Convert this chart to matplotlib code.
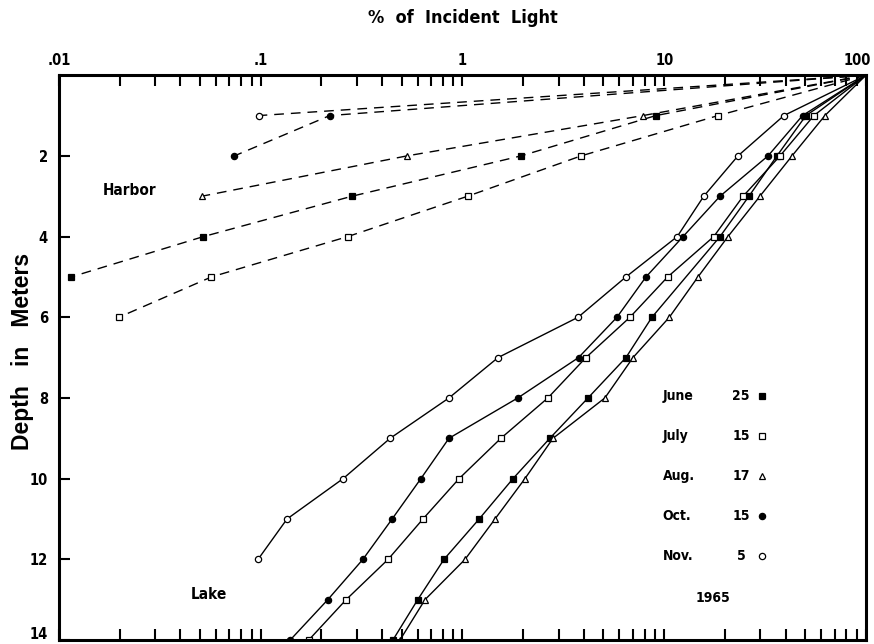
import numpy as np
import matplotlib
matplotlib.use("Agg")
import matplotlib.pyplot as plt
import matplotlib.transforms as mtransforms

# Harbor stations (dashed lines), % of incident light vs depth (m)
harbor_june_depth = [0, 1, 2, 3, 4, 5]
harbor_june_light = [100, 9.1, 1.95, 0.283, 0.052, 0.0115]
harbor_july_depth = [0, 1, 2, 3, 4, 5, 6]
harbor_july_light = [100, 18.5, 3.87, 1.06, 0.27, 0.057, 0.0198]
harbor_aug_depth = [0, 1, 2, 3]
harbor_aug_light = [100, 7.85, 0.53, 0.051]
harbor_oct_depth = [0, 1, 2]
harbor_oct_light = [100, 0.22, 0.074]
harbor_nov_depth = [0, 1]
harbor_nov_light = [100, 0.098]

# Lake stations (solid lines)
lake_june_depth = [0, 1, 2, 3, 4, 6, 7, 8, 9, 10, 11, 12, 13, 14]
lake_june_light = [100, 50.4, 36.2, 26.3, 18.9, 8.69, 6.46, 4.19, 2.71, 1.78, 1.21, 0.81, 0.60, 0.452]
lake_july_depth = [0, 1, 2, 3, 4, 5, 6, 7, 8, 9, 10, 11, 12, 13, 14]
lake_july_light = [100, 55.2, 37.5, 24.6, 17.6, 10.4, 6.76, 4.09, 2.65, 1.55, 0.962, 0.637, 0.428, 0.265, 0.173]
lake_aug_depth = [0, 1, 2, 3, 4, 5, 6, 7, 8, 9, 10, 11, 12, 13, 14]
lake_aug_light = [100, 62.6, 43.0, 29.8, 20.7, 14.7, 10.6, 7.0, 5.08, 2.81, 2.04, 1.45, 1.03, 0.652, 0.49]
lake_oct_depth = [0, 1, 2, 3, 4, 5, 6, 7, 8, 9, 10, 11, 12, 13, 14]
lake_oct_light = [100, 48.5, 32.7, 18.9, 12.4, 8.12, 5.83, 3.76, 1.88, 0.857, 0.622, 0.448, 0.321, 0.215, 0.140]
lake_nov_depth = [0, 1, 2, 3, 4, 5, 6, 7, 8, 9, 10, 11, 12]
lake_nov_light = [100, 39.2, 23.2, 15.7, 11.6, 6.46, 3.74, 1.50, 0.857, 0.438, 0.256, 0.135, 0.097]

dates = ["June", "July", "Aug.", "Oct.", "Nov."]
days = ["25", "15", "17", "15", "5"]
markers = ["s", "s", "^", "o", "o"]
faces = ["black", "white", "white", "black", "white"]
year_label = "1965"

x_ticks = [0.01, 0.1, 1, 10, 100]
x_ticklabels = [".01", ".1", "1", "10", "100"]
y_ticks = [2, 4, 6, 8, 10, 12, 14]

# condensed lettering like the original print
lab = dict(fontfamily="DejaVu Sans", fontstretch="condensed", fontweight="bold")

fig = plt.figure(figsize=(8.74, 6.44), dpi=100)
ax = fig.add_axes([0.0675, 0.0062, 0.9233, 0.877])

harbor = [(harbor_june_light, harbor_june_depth), (harbor_july_light, harbor_july_depth),
          (harbor_aug_light, harbor_aug_depth), (harbor_oct_light, harbor_oct_depth),
          (harbor_nov_light, harbor_nov_depth)]
lake = [(lake_june_light, lake_june_depth), (lake_july_light, lake_july_depth),
        (lake_aug_light, lake_aug_depth), (lake_oct_light, lake_oct_depth),
        (lake_nov_light, lake_nov_depth)]

for (x, y), m, fc in zip(harbor, markers, faces):
    ax.plot(x, y, color="black", lw=1.0, dashes=(7, 5))
    ax.plot(x[1:], y[1:], ls="none", marker=m, mfc=fc, mec="black", ms=4.5, mew=0.9)

for (x, y), m, fc in zip(lake, markers, faces):
    ax.plot(x, y, color="black", lw=1.0, marker=m, mfc=fc, mec="black", ms=4.5, mew=0.9,
            markevery=list(range(1, len(x))))

ax.set_xscale("log")
ax.set_xlim(0.01, 100)
ax.set_ylim(14, 0)

ax.xaxis.tick_top()
ax.set_xticks(x_ticks)
ax.set_xticklabels(x_ticklabels, fontsize=10.5, **lab)
ax.tick_params(axis="x", which="both", direction="in", length=8, width=1.5,
               top=True, bottom=True, labeltop=True, labelbottom=False, pad=5)
ax.set_yticks(y_ticks)
ax.set_yticklabels([str(t) for t in y_ticks], fontsize=10.5, **lab)
ax.tick_params(axis="y", which="both", direction="in", length=8, width=1.5,
               left=True, right=False, pad=8)
ax.minorticks_on()
ax.yaxis.set_minor_locator(plt.NullLocator())
ax.tick_params(axis="x", which="minor", length=8, width=1.5)

# keep the corner labels inside the picture
lbl = ax.get_xticklabels()[-1]
lbl.set_transform(lbl.get_transform() + mtransforms.ScaledTranslation(-6 / 72, 0, fig.dpi_scale_trans))
lbl = ax.get_yticklabels()[-1]
lbl.set_transform(lbl.get_transform() + mtransforms.ScaledTranslation(0, 5 / 72, fig.dpi_scale_trans))

for s in ax.spines.values():
    s.set_linewidth(2.2)

fig.text(0.53, 0.972, "%  of  Incident  Light", ha="center", va="center",
         fontsize=13, **lab)
fig.text(0.026, 0.455, "Depth   in   Meters", ha="center", va="center", rotation=90,
         fontsize=16.5, fontweight="bold", fontfamily="Liberation Sans")

ax.text(0.087, 0.796, "Harbor", transform=ax.transAxes, ha="center", va="center",
        fontsize=11, **lab)
ax.text(0.186, 0.08, "Lake", transform=ax.transAxes, ha="center", va="center",
        fontsize=11, **lab)

row_y = [0.432, 0.361, 0.290, 0.219, 0.149]
for d, n, m, fc, ry in zip(dates, days, markers, faces, row_y):
    ax.text(0.748, ry, d, transform=ax.transAxes, ha="left", va="center",
            fontsize=10, **lab)
    ax.text(0.845, ry, n, transform=ax.transAxes, ha="center", va="center",
            fontsize=10, **lab)
    ax.plot([0.871], [ry], transform=ax.transAxes, marker=m, mfc=fc, mec="black",
            ms=4.5, mew=0.9, ls="none")
ax.text(0.81, 0.074, year_label, transform=ax.transAxes, ha="center", va="center",
        fontsize=10, **lab)

fig.savefig("out.png", dpi=100)
